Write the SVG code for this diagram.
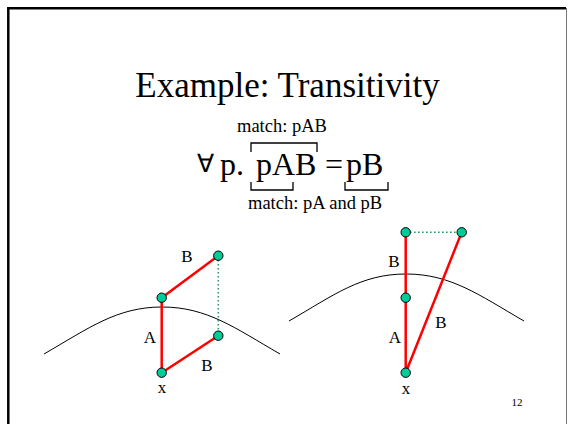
<svg xmlns="http://www.w3.org/2000/svg" width="568" height="424" viewBox="0 0 568 424">
<style>
text{font-family:"Liberation Serif","Times New Roman",serif;fill:#000}
.lbl{font-size:17px;text-anchor:middle}
.mt{font-size:18.5px}
.fm{font-size:32px}
.red{stroke:#ff0000;stroke-width:2.5;fill:none;stroke-linecap:round}
.dot{stroke:#2e9966;stroke-width:1.6;stroke-dasharray:1.6 2.4;fill:none}
.arc{stroke:#000;stroke-width:1;fill:none}
.node{fill:#00cc99;stroke:#000;stroke-width:1}
.br{stroke:#000;stroke-width:1.3;fill:none}
</style>
<rect x="0" y="0" width="568" height="424" fill="#fff"/>
<g id="frame">
<line x1="8.3" y1="8" x2="8.3" y2="424" stroke="#000" stroke-width="2.5"/>
<line x1="7" y1="8.3" x2="566" y2="8.3" stroke="#000" stroke-width="2.5"/>
<line x1="566.5" y1="8" x2="566.5" y2="424" stroke="#777" stroke-width="1"/>
</g>
<g id="title"><text x="287.5" y="97" font-size="35" text-anchor="middle">Example: Transitivity</text></g>
<g id="formula">
<text class="mt" x="237" y="132">match: pAB</text>
<text x="197" y="172" font-size="25">∀</text>
<text class="fm" x="220" y="175">p.</text>
<text class="fm" x="256" y="175">pAB</text>
<text class="fm" x="325" y="175">=</text>
<text class="fm" x="346" y="175">pB</text>
<text class="mt" x="248" y="209">match: pA and pB</text>
<path class="br" d="M251,152 V143 H317 V152"/>
<path class="br" d="M251,182 V190 H293 V182"/>
<path class="br" d="M345,182 V190 H388 V182"/>
</g>
<g id="connectors">
<path class="arc" d="M44,354 C89,328 117,307 162,307 C207,307 235,328 280,354"/>
<path class="arc" d="M289,321 C334,295 361,274 406,274 C451,274 479,295 524,321"/>
<line class="dot" x1="218.3" y1="256" x2="218.3" y2="335.5"/>
<line class="red" x1="161.7" y1="297.7" x2="218.3" y2="255.7"/>
<line class="red" x1="161.7" y1="297.7" x2="161.7" y2="372.7"/>
<line class="red" x1="161.7" y1="372.7" x2="218.3" y2="335.7"/>
<line class="dot" x1="406" y1="232.3" x2="461.5" y2="232.3"/>
<line class="red" x1="405.7" y1="232.3" x2="405.7" y2="372.7"/>
<line class="red" x1="405.7" y1="372.7" x2="461.7" y2="232.3"/>
</g>
<g id="n1"><circle class="node" cx="218.3" cy="255.7" r="4.7"/></g>
<g id="n2"><circle class="node" cx="161.7" cy="297.7" r="4.7"/></g>
<g id="n3"><circle class="node" cx="218.3" cy="335.7" r="4.7"/></g>
<g id="n4"><circle class="node" cx="161.7" cy="372.7" r="4.7"/></g>
<g id="n5"><circle class="node" cx="405.7" cy="232.3" r="4.7"/></g>
<g id="n6"><circle class="node" cx="461.7" cy="232.3" r="4.7"/></g>
<g id="n7"><circle class="node" cx="405.7" cy="297.7" r="4.7"/></g>
<g id="n8"><circle class="node" cx="405.7" cy="372.7" r="4.7"/></g>
<g id="labels">
<text class="lbl" x="187" y="262">B</text>
<text class="lbl" x="150" y="343">A</text>
<text class="lbl" x="207" y="371">B</text>
<text class="lbl" x="162" y="393">x</text>
<text class="lbl" x="394" y="267">B</text>
<text class="lbl" x="395" y="343">A</text>
<text class="lbl" x="441" y="328">B</text>
<text class="lbl" x="406" y="394">x</text>
<text x="517" y="406" font-size="11" text-anchor="middle">12</text>
</g>
</svg>
